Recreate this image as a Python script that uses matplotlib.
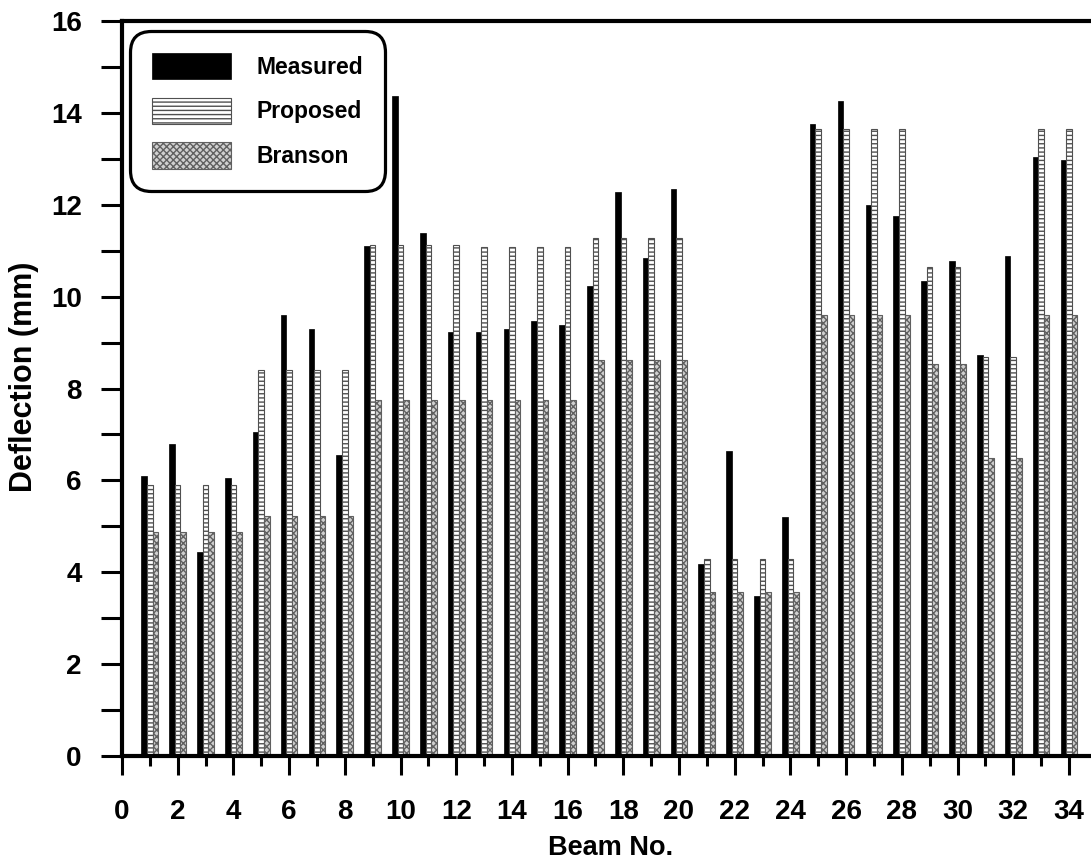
import matplotlib
matplotlib.use("Agg")
import matplotlib.pyplot as plt
import numpy as np
from matplotlib.ticker import MultipleLocator
from matplotlib.patches import Patch

plt.rcParams['font.family'] = ['Liberation Sans', 'DejaVu Sans']
plt.rcParams['font.weight'] = 'bold'
plt.rcParams['hatch.linewidth'] = 1.0

beams = list(range(1, 35))
measured = [6.10, 6.80, 4.45, 6.05, 7.05, 9.60, 9.30, 6.55, 11.10, 14.37,
            11.38, 9.24, 9.24, 9.29, 9.48, 9.38, 10.23, 12.28, 10.85, 12.35,
            4.19, 6.64, 3.49, 5.20, 13.75, 14.25, 12.00, 11.75, 10.34, 10.77,
            8.74, 10.88, 13.03, 12.97]
proposed = [5.91, 5.91, 5.91, 5.91, 8.40, 8.40, 8.40, 8.40, 11.12, 11.12,
            11.12, 11.12, 11.07, 11.07, 11.07, 11.07, 11.27, 11.27, 11.27, 11.27,
            4.29, 4.29, 4.29, 4.29, 13.65, 13.65, 13.65, 13.65, 10.65, 10.65,
            8.69, 8.69, 13.65, 13.65]
branson = [4.87, 4.87, 4.87, 4.87, 5.22, 5.22, 5.22, 5.22, 7.75, 7.75,
           7.75, 7.75, 7.75, 7.75, 7.75, 7.75, 8.62, 8.62, 8.62, 8.62,
           3.56, 3.56, 3.56, 3.56, 9.61, 9.61, 9.61, 9.61, 8.53, 8.53,
           6.49, 6.49, 9.59, 9.59]
series_names = ["Measured", "Proposed", "Branson"]

W, H = 1091, 859
fig = plt.figure(figsize=(W / 100, H / 100), dpi=100)
ax = fig.add_axes([122 / W, 1 - 756 / H, (W - 122) / W, (756 - 21) / H])

x = np.array(beams, dtype=float)
bw = 0.2
style_m = dict(color='black', edgecolor='black', linewidth=0.5)
style_p = dict(facecolor='white', edgecolor='#505050', hatch='----', linewidth=0.8)
style_b = dict(facecolor='#d0d0d0', edgecolor='#606060', hatch='xxxxx', linewidth=0.8)

ax.bar(x - bw, measured, width=bw, **style_m)
ax.bar(x, proposed, width=bw, **style_p)
ax.bar(x + bw, branson, width=bw, **style_b)

ax.set_xlim(0, (W - 122) / 27.85)
ax.set_ylim(0, 16)

ax.xaxis.set_major_locator(MultipleLocator(2))
ax.xaxis.set_minor_locator(MultipleLocator(1))
ax.yaxis.set_major_locator(MultipleLocator(2))
ax.yaxis.set_minor_locator(MultipleLocator(1))

for s in ['left', 'bottom', 'top']:
    ax.spines[s].set_linewidth(3)
ax.spines['right'].set_visible(False)

ax.tick_params(axis='x', which='major', direction='out', length=14, width=2.2,
               pad=17, labelsize=20, top=False)
ax.tick_params(axis='x', which='minor', direction='out', length=7, width=2.2, top=False)
ax.tick_params(axis='y', which='major', direction='out', length=15, width=2.2,
               pad=14, labelsize=20, right=False)
ax.tick_params(axis='y', which='minor', direction='out', length=15, width=2.2, right=False)
for lab in ax.get_xticklabels() + ax.get_yticklabels():
    lab.set_fontweight('bold')

fig.text(611 / W, 1 - 855 / H, "Beam No.", ha='center', va='baseline',
         fontsize=19.5, fontweight='bold')
fig.text(24 / W, 1 - 377 / H, "Deflection (mm)", ha='center', va='center',
         rotation=90, fontsize=22, fontweight='bold')

handles = [Patch(**style_m), Patch(**style_p), Patch(**style_b)]
leg = fig.legend(handles, series_names, loc='upper left',
                 bbox_to_anchor=(130 / W, 1 - 31 / H), bbox_transform=fig.transFigure,
                 borderaxespad=0, handlelength=3.45, handleheight=1.4,
                 labelspacing=0.8, handletextpad=1.13, borderpad=0.95,
                 frameon=True, fancybox=True, prop={'weight': 'bold', 'size': 16.5})
frame = leg.get_frame()
frame.set_edgecolor('black')
frame.set_linewidth(2.3)
frame.set_boxstyle('round', pad=0, rounding_size=0.9)
frame.set_alpha(None)
frame.set_facecolor('white')

fig.savefig("out.png", dpi=100)
